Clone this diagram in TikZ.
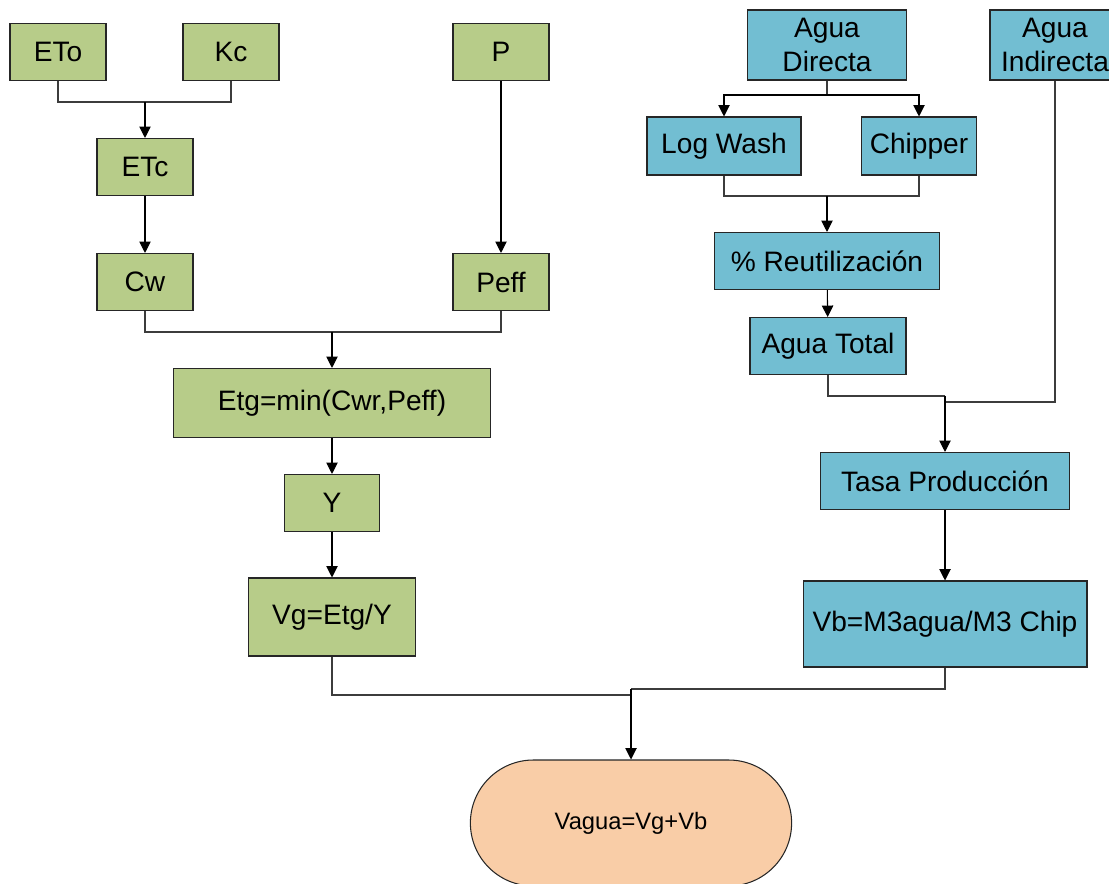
\documentclass[tikz,border=0pt]{standalone}
\usepackage{fontspec}
\setmainfont{Liberation Sans}
\usetikzlibrary{arrows.meta, shapes.misc, positioning}
\definecolor{cropbox}{RGB}{183,204,137}
\definecolor{plantbox}{RGB}{114,190,210}
\definecolor{totalbox}{RGB}{249,205,167}
\definecolor{wire}{RGB}{60,60,60}

\begin{document}
\begin{tikzpicture}[
    x=0.02cm, y=-0.02cm,
    box/.style={rectangle, draw=black!85, line width=0.6pt,
                font=\fontsize{16}{19}\selectfont, align=center,
                inner sep=1pt},
    gbox/.style={box, fill=cropbox},
    bbox/.style={box, fill=plantbox},
    wline/.style={-, line width=0.6pt, color=wire},
    warrow/.style={wline, -{Triangle[length=6.5pt,width=6.5pt]}, color=black},
]
\useasboundingbox (0,0) rectangle (1109,884);
\clip (0,0) rectangle (1109,884);

% ======================================================
% Left: crop water branch (green)
% ======================================================
\node[gbox, minimum width=1.92cm, minimum height=1.14cm] (eto) at (58,52) {ETo};
\node[gbox, minimum width=1.92cm, minimum height=1.14cm] (kc)  at (231,52) {Kc};
\node[gbox, minimum width=1.92cm, minimum height=1.14cm] (p)   at (501,52) {P};
\node[gbox, minimum width=1.92cm, minimum height=1.14cm] (etc) at (145,167) {ETc};
\node[gbox, minimum width=1.92cm, minimum height=1.14cm] (cw)  at (145,282) {Cw};
\node[gbox, minimum width=1.92cm, minimum height=1.14cm] (peff) at (501,282) {Peff};
\node[gbox, minimum width=6.34cm, minimum height=1.38cm] (etg) at (332,403)
     {Etg=min(Cwr,Peff)};
\node[gbox, minimum width=1.90cm, minimum height=1.14cm] (y)  at (332,503) {Y};
\node[gbox, minimum width=3.34cm, minimum height=1.56cm] (vg) at (332,617) {Vg=Etg/Y};

\coordinate (jetc) at (145,102);
\coordinate (jetg) at (332,332);

\draw[wline] (eto.south) |- (jetc) -| (kc.south);
\draw[warrow] (jetc) -- (etc.north);
\draw[warrow] (etc) -- (cw);
\draw[warrow] (p) -- (peff);
\draw[wline] (cw.south) |- (jetg) -| (peff.south);
\draw[warrow] (jetg) -- (etg.north);
\draw[warrow] (etg) -- (y);
\draw[warrow] (y) -- (vg);

% ======================================================
% Right: plant water branch (blue)
% ======================================================
\node[bbox, minimum width=3.18cm, minimum height=1.40cm] (dir) at (827,45)
     {Agua\\Directa};
\node[bbox, minimum width=2.60cm, minimum height=1.40cm] (ind) at (1055,45)
     {Agua\\Indirecta};
\node[bbox, minimum width=3.08cm, minimum height=1.16cm] (wash) at (724,146) {Log Wash};
\node[bbox, minimum width=2.30cm, minimum height=1.16cm] (chip) at (919,146) {Chipper};
\node[bbox, minimum width=4.50cm, minimum height=1.14cm] (reuse) at (827,261)
     {\% Reutilización};
\node[bbox, minimum width=3.12cm, minimum height=1.14cm] (total) at (828,346)
     {Agua Total};
\node[bbox, minimum width=4.98cm, minimum height=1.14cm] (tasa) at (945,481)
     {Tasa Producción};
\node[bbox, minimum width=5.68cm, minimum height=1.72cm] (vb) at (945,624)
     {Vb=M3agua/M3 Chip};

\coordinate (jdir) at (827,95);
\coordinate (jreuse) at (827,196);
\coordinate (jtot) at (945,396);
\coordinate (jind) at (945,402);

\draw[wline] (dir.south) -- (jdir);
\draw[warrow] (jdir) -| (wash.north);
\draw[warrow] (jdir) -| (chip.north);
\draw[wline] (wash.south) |- (jreuse) -| (chip.south);
\draw[warrow] (jreuse) -- (reuse.north);
\draw[warrow] (reuse) -- (total);
\draw[wline] (total.south) |- (jtot);
\draw[wline] (ind.south) |- (jind);
\draw[warrow] (jtot) -- (tasa.north);
\draw[warrow] (tasa) -- (vb);

% ======================================================
% Bottom: total water
% ======================================================
\node[rounded rectangle, draw=black!85, line width=0.6pt, fill=totalbox,
      minimum width=6.66cm, minimum height=2.52cm,
      font=\fontsize{13.5}{16}\selectfont] (vagua) at (631,823) {Vagua=Vg+Vb};

\coordinate (jvg) at (631,695);
\coordinate (jvb) at (631,689);

\draw[wline] (vg.south) |- (jvg);
\draw[wline] (vb.south) |- (jvb);
\draw[warrow] (jvb) -- (vagua.north);

\end{tikzpicture}
\end{document}
